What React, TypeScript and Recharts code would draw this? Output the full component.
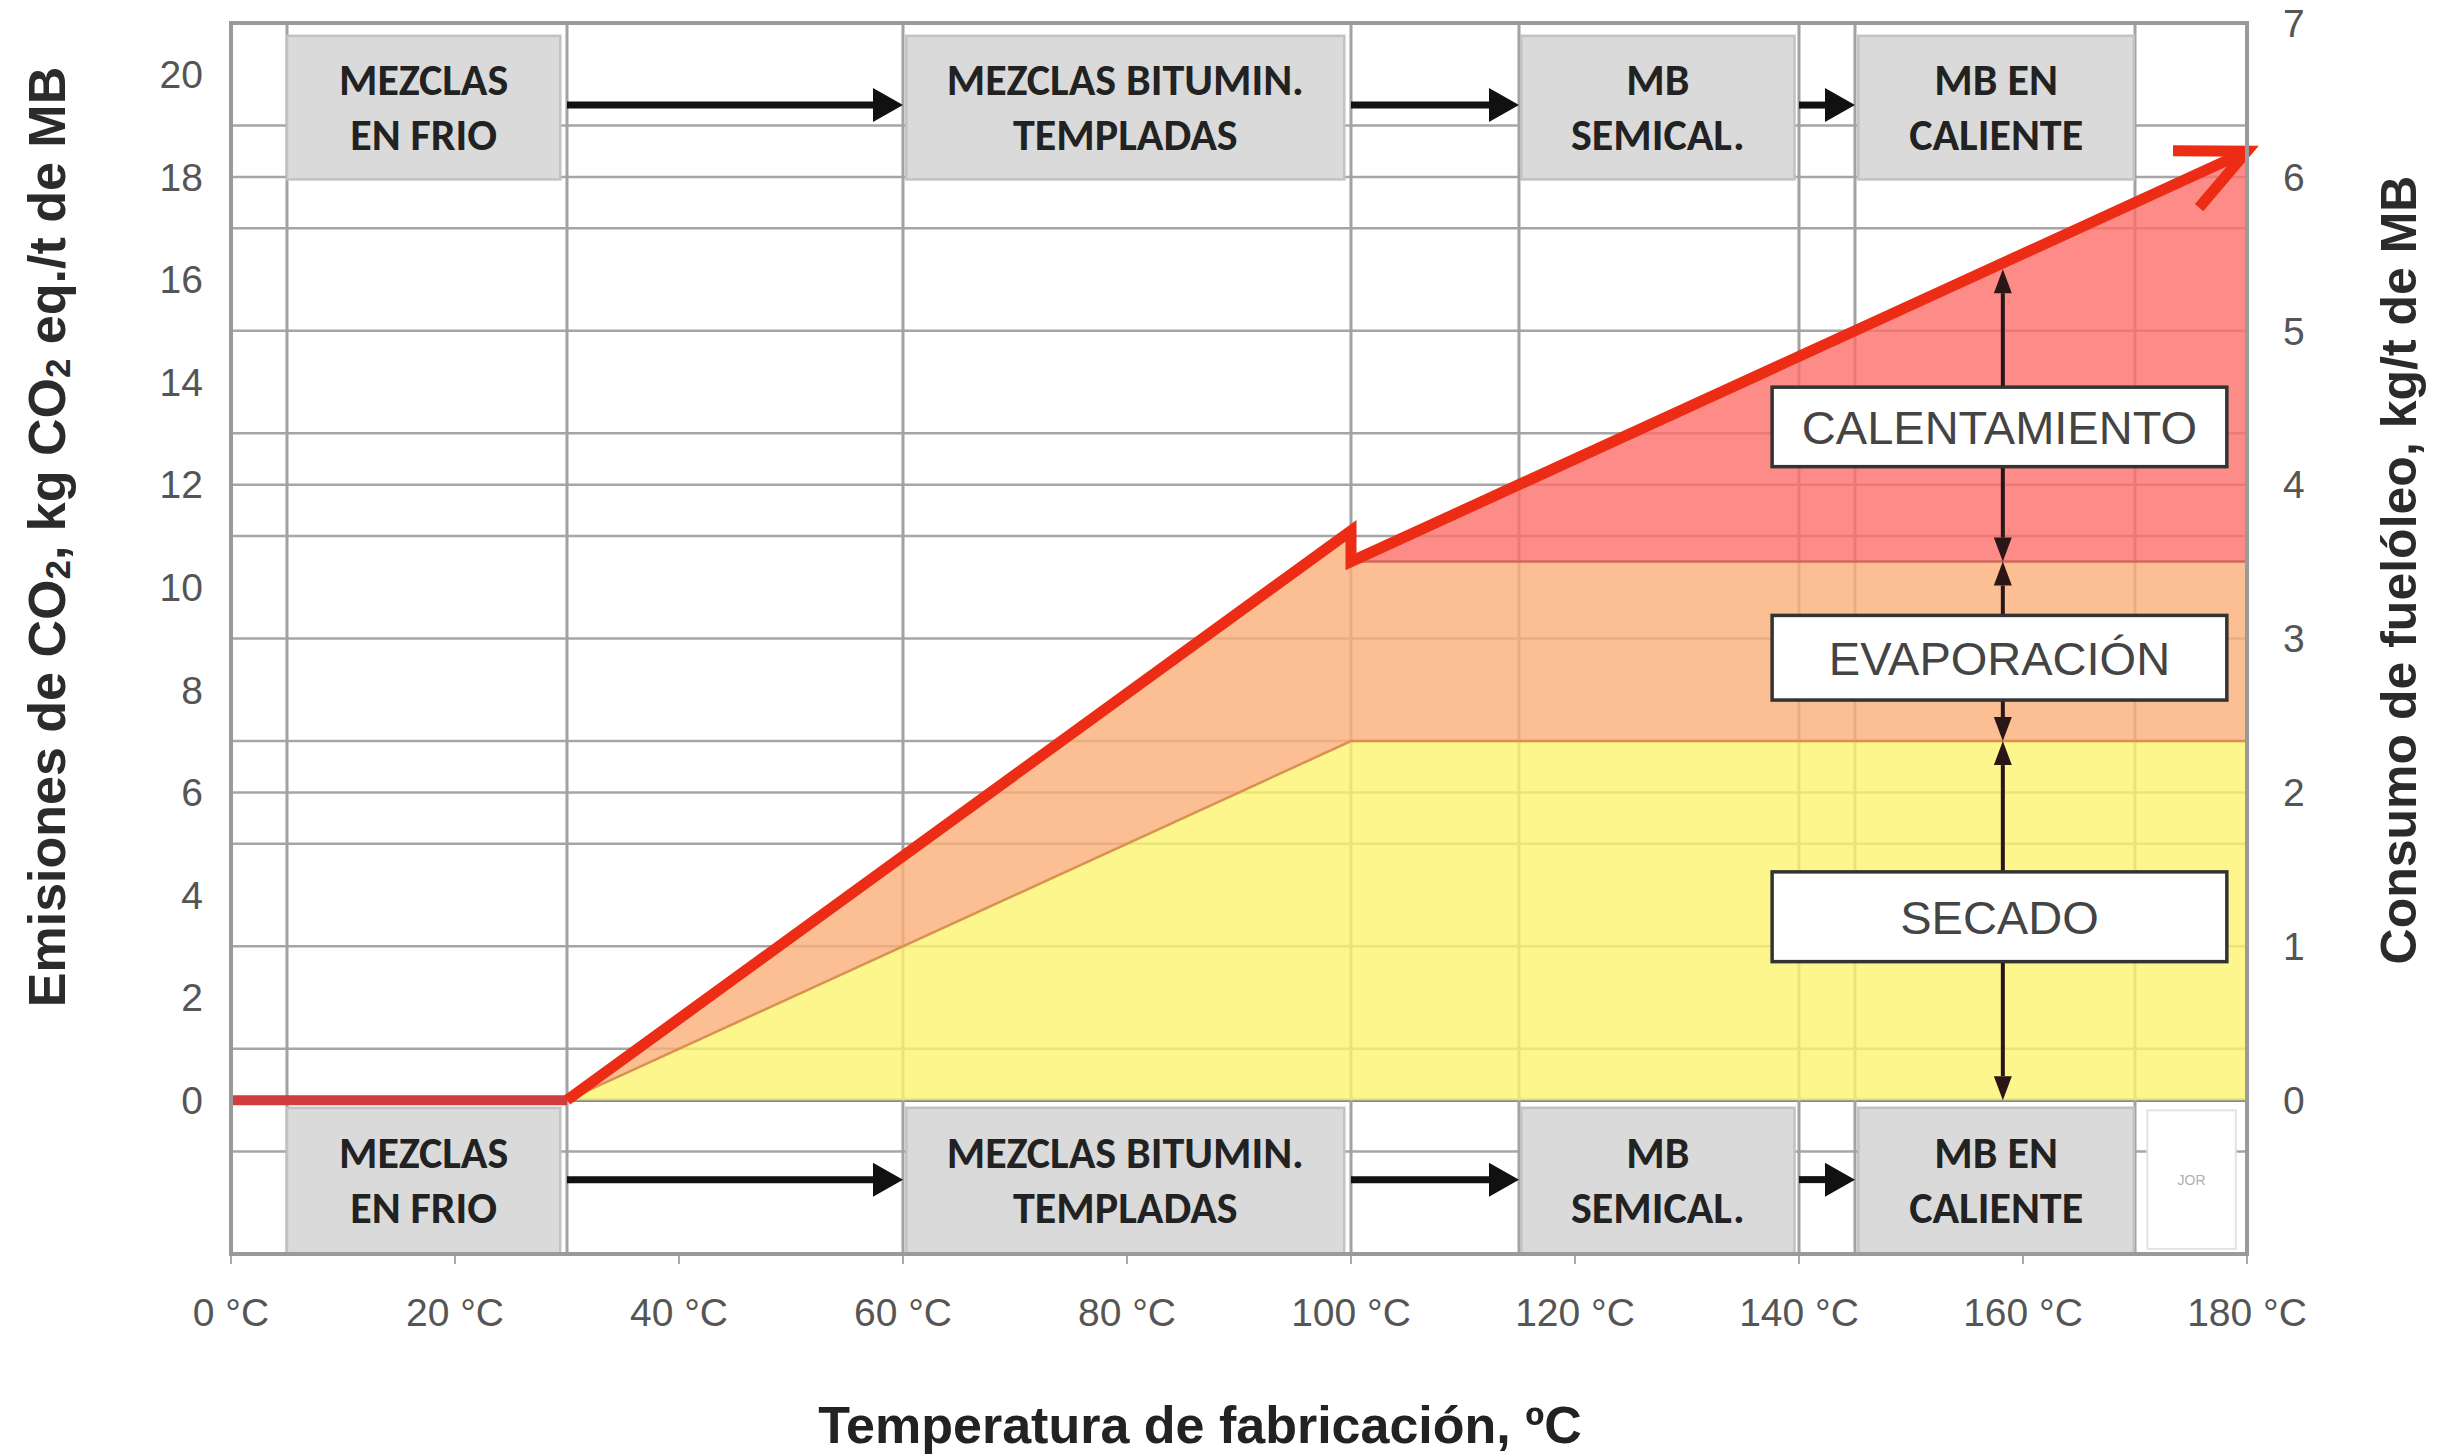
import React from 'react';
import {
  ComposedChart,
  XAxis,
  YAxis,
  Area,
  Line,
  ReferenceLine,
  ReferenceArea,
  Label,
} from 'recharts';

// ---------------- data ----------------
const temperatura = [0, 30, 100, 100, 180];
const secado = [null, 0, 7, 7, 7];
const evaporacion = [null, 0, 11.1, 10.5, 10.5];
const calentamiento = [null, null, null, 10.5, 18.5];
const emisionesFrio = [0, 0, null, null, null];
const emisionesCalor = [null, 0, 11.1, 10.5, 18.5];

const xTicks = [0, 20, 40, 60, 80, 100, 120, 140, 160, 180];
const xTickLabels = ['0 °C', '20 °C', '40 °C', '60 °C', '80 °C', '100 °C', '120 °C', '140 °C', '160 °C', '180 °C'];
const leftTicks = [0, 2, 4, 6, 8, 10, 12, 14, 16, 18, 20];
const rightTicks = [0, 1, 2, 3, 4, 5, 6, 7];
const gridY = [-1, 0, 1, 3, 5, 6, 7, 9, 11, 12, 13, 15, 17, 18, 19];
const gridX = [5, 30, 60, 100, 115, 140, 145, 170];

const etapasNombres = [
  ['MEZCLAS', 'EN FRIO'],
  ['MEZCLAS BITUMIN.', 'TEMPLADAS'],
  ['MB', 'SEMICAL.'],
  ['MB EN', 'CALIENTE'],
];
const etapasDesde = [5, 60.3, 115.2, 145.3];
const etapasHasta = [29.4, 99.4, 139.6, 169.9];
const flechasDesde = [30, 100, 140];
const flechasHasta = [60, 115, 145];

const fasesNombres = ['CALENTAMIENTO', 'EVAPORACIÓN', 'SECADO'];
const fasesAbajo = [12.35, 7.8, 2.7];
const fasesArriba = [13.9, 9.45, 4.45];
const fasesLimiteSup = [16.2, 10.5, 7];
const fasesLimiteInf = [10.5, 7, 0];

// ---------------- table built from the arrays ----------------
const band = (lo: number | null, hi: number | null) =>
  lo == null || hi == null ? [null, null] : [lo, hi];

const data = temperatura.map((t, i) => ({
  t,
  secado: band(secado[i] == null ? null : 0, secado[i]),
  evaporacion: band(secado[i], evaporacion[i]),
  calentamiento: band(evaporacion[i], calentamiento[i]),
  limiteSecado: secado[i],
  limiteEvap: evaporacion[i],
  frio: emisionesFrio[i],
  emisiones: emisionesCalor[i],
}));

// ---------------- layout / styles ----------------
const W = 2443;
const H = 1456;
const SANS = "'Liberation Sans', Arial, Helvetica, sans-serif";
const BOXFONT = "Carlito, 'Liberation Sans Narrow', 'DejaVu Sans Condensed', 'Liberation Sans', sans-serif";
const RED = '#ec2c14';

const BAND_TOP = [17.95, 20.75];
const BAND_BOTTOM = [-3, -0.15];
const ARROW_TOP_Y = 19.4;
const ARROW_BOTTOM_Y = -1.55;
const PHASE_X1 = 137.6;
const PHASE_X2 = 178.2;
const PHASE_ARROW_X = 158.2;

const bandBox = (lines: string[]) => (p: any) => {
  const cx = p.x + p.width / 2;
  const cy = p.y + p.height / 2;
  const fs = 44;
  return (
    <g>
      <rect x={p.x} y={p.y} width={p.width} height={p.height} fill="#dadada" stroke="#c2c2c2" strokeWidth={2.5} />
      <text x={cx} y={cy - 27 + fs * 0.33} textAnchor="middle" fontSize={fs} fontWeight="bold" fill="#222" fontFamily={BOXFONT}>
        {lines[0]}
      </text>
      <text x={cx} y={cy + 28 + fs * 0.33} textAnchor="middle" fontSize={fs} fontWeight="bold" fill="#222" fontFamily={BOXFONT}>
        {lines[1]}
      </text>
    </g>
  );
};

const jorBox = (p: any) => (
  <g>
    <rect x={p.x} y={p.y} width={p.width} height={p.height} fill="#ffffff" stroke="#e2e2e2" strokeWidth={2} />
    <text x={p.x + p.width / 2} y={p.y + p.height / 2 + 5} textAnchor="middle" fontSize={14} fill="#b0b0b0" fontFamily={SANS}>
      JOR
    </text>
  </g>
);

const bandArrow = (p: any) => {
  const { x1, y1, x2, y2 } = p;
  const head = 30;
  const half = 17;
  return (
    <g>
      <line x1={x1} y1={y1} x2={x2 - head + 2} y2={y2} stroke="#111" strokeWidth={7} />
      <polygon points={`${x2},${y2} ${x2 - head},${y2 - half} ${x2 - head},${y2 + half}`} fill="#111" />
    </g>
  );
};

const phaseArrow = (p: any) => {
  const { x1, y1, x2, y2 } = p;
  const a = Math.atan2(y2 - y1, x2 - x1);
  const L = 24;
  const Wd = 9;
  const bx = x2 - L * Math.cos(a);
  const by = y2 - L * Math.sin(a);
  const px = -Math.sin(a) * Wd;
  const py = Math.cos(a) * Wd;
  return (
    <g>
      <line x1={x1} y1={y1} x2={bx} y2={by} stroke="#2a1616" strokeWidth={4} />
      <polygon points={`${x2},${y2} ${bx + px},${by + py} ${bx - px},${by - py}`} fill="#2a1616" />
    </g>
  );
};

const phaseBox = (label: string) => (p: any) => {
  const fs = 47;
  return (
    <g>
      <rect x={p.x} y={p.y} width={p.width} height={p.height} fill="#ffffff" stroke="#333" strokeWidth={3.5} />
      <text x={p.x + p.width / 2} y={p.y + p.height / 2 + fs * 0.36} textAnchor="middle" fontSize={fs} fill="#444" fontFamily={SANS}>
        {label}
      </text>
    </g>
  );
};

const chevron = (p: any) => {
  const { x1, y1, x2, y2 } = p;
  const a = Math.atan2(y2 - y1, x2 - x1);
  const L = 74;
  const s = (25 * Math.PI) / 180;
  const a1 = a + Math.PI - s;
  const a2 = a + Math.PI + s;
  const d = `M ${x2 + L * Math.cos(a1)} ${y2 + L * Math.sin(a1)} L ${x2} ${y2} L ${x2 + L * Math.cos(a2)} ${y2 + L * Math.sin(a2)}`;
  return <path d={d} fill="none" stroke={RED} strokeWidth={11} strokeLinejoin="miter" strokeMiterlimit={10} />;
};

const XTitle = () => (
  <text x={1200} y={1425} textAnchor="middle" dominantBaseline="central" fontSize={52} fontWeight="bold" fill="#222" fontFamily={SANS}>
    Temperatura de fabricación, ºC
  </text>
);

const LeftTitle = () => {
  const x = 47;
  const y = 537;
  return (
    <text x={x} y={y} transform={`rotate(-90, ${x}, ${y})`} textAnchor="middle" dominantBaseline="central" fontSize={52} fontWeight="bold" fill="#2b2b2b" fontFamily={SANS}>
      Emisiones de CO
      <tspan fontSize={35} dy={10}>2</tspan>
      <tspan dy={-10}>, kg CO</tspan>
      <tspan fontSize={35} dy={10}>2</tspan>
      <tspan dy={-10}> eq./t de MB</tspan>
    </text>
  );
};

const RightTitle = () => {
  const x = 2399;
  const y = 570;
  return (
    <text x={x} y={y} transform={`rotate(-90, ${x}, ${y})`} textAnchor="middle" dominantBaseline="central" fontSize={50} fontWeight="bold" fill="#2b2b2b" fontFamily={SANS}>
      Consumo de fuelóleo, kg/t de MB
    </text>
  );
};

const tickStyle = { fontSize: 39, fill: '#555', fontFamily: SANS };

export default function App() {
  return (
    <div style={{ position: 'absolute', left: 0, top: 0, width: W, height: H, background: '#ffffff' }}>
      <ComposedChart width={W} height={H} data={data} margin={{ top: 23, right: 0, bottom: 0, left: 0 }}>
        <XAxis
          type="number"
          dataKey="t"
          domain={[0, 180]}
          ticks={xTicks}
          interval={0}
          allowDataOverflow
          height={202}
          axisLine={false}
          tickLine={{ stroke: '#aaa', strokeWidth: 2 }}
          tickSize={10}
          tickMargin={34}
          tick={tickStyle}
          tickFormatter={(v: number) => xTickLabels[xTicks.indexOf(v)] ?? `${v} °C`}
        >
          <Label content={XTitle} />
        </XAxis>
        <YAxis
          type="number"
          domain={[-3, 21]}
          ticks={leftTicks}
          interval={0}
          allowDataOverflow
          width={231}
          axisLine={false}
          tickLine={false}
          tickSize={0}
          tickMargin={28}
          tick={tickStyle}
        >
          <Label content={LeftTitle} />
        </YAxis>
        <YAxis
          yAxisId="right"
          orientation="right"
          type="number"
          domain={[-1, 7]}
          ticks={rightTicks}
          interval={0}
          allowDataOverflow
          width={196}
          axisLine={false}
          tickLine={false}
          tickSize={0}
          tickMargin={36}
          tick={tickStyle}
        >
          <Label content={RightTitle} />
        </YAxis>

        {gridY.map((v) => (
          <ReferenceLine key={`gy${v}`} y={v} stroke={v === 0 ? '#8a8a8a' : '#a6a6a6'} strokeWidth={v === 0 ? 3.5 : 2.5} zIndex={10} />
        ))}
        {gridX.map((v) => (
          <ReferenceLine key={`gx${v}`} x={v} stroke="#a2a2a2" strokeWidth={3} zIndex={10} />
        ))}

        <Area type="linear" dataKey="calentamiento" fill="#fd6f6c" fillOpacity={0.8} stroke="none" isAnimationActive={false} dot={false} activeDot={false} zIndex={100} />
        <Area type="linear" dataKey="evaporacion" fill="#fbae78" fillOpacity={0.8} stroke="none" isAnimationActive={false} dot={false} activeDot={false} zIndex={101} />
        <Area type="linear" dataKey="secado" fill="#fbf470" fillOpacity={0.8} stroke="none" isAnimationActive={false} dot={false} activeDot={false} zIndex={102} />
        <Line type="linear" dataKey="limiteSecado" stroke="#d9914f" strokeWidth={2.5} dot={false} activeDot={false} isAnimationActive={false} zIndex={150} />
        <Line type="linear" dataKey="limiteEvap" stroke="#cf6a5e" strokeWidth={2.5} dot={false} activeDot={false} isAnimationActive={false} zIndex={150} />

        {etapasNombres.map((lines, i) => (
          <ReferenceArea key={`bt${i}`} x1={etapasDesde[i]} x2={etapasHasta[i]} y1={BAND_TOP[0]} y2={BAND_TOP[1]} shape={bandBox(lines)} zIndex={300} />
        ))}
        {etapasNombres.map((lines, i) => (
          <ReferenceArea key={`bb${i}`} x1={etapasDesde[i]} x2={etapasHasta[i]} y1={BAND_BOTTOM[0]} y2={BAND_BOTTOM[1]} shape={bandBox(lines)} zIndex={300} />
        ))}
        <ReferenceArea x1={171.1} x2={179} y1={-2.9} y2={-0.2} shape={jorBox} zIndex={300} />

        {flechasDesde.map((x0, i) => (
          <ReferenceLine key={`ft${i}`} segment={[{ x: x0, y: ARROW_TOP_Y }, { x: flechasHasta[i], y: ARROW_TOP_Y }]} shape={bandArrow} zIndex={310} />
        ))}
        {flechasDesde.map((x0, i) => (
          <ReferenceLine key={`fb${i}`} segment={[{ x: x0, y: ARROW_BOTTOM_Y }, { x: flechasHasta[i], y: ARROW_BOTTOM_Y }]} shape={bandArrow} zIndex={310} />
        ))}

        <Line type="linear" dataKey="frio" stroke="#cf3d3f" strokeWidth={10} dot={false} activeDot={false} isAnimationActive={false} zIndex={400} />
        <Line type="linear" dataKey="emisiones" stroke={RED} strokeWidth={11} strokeLinejoin="miter" strokeMiterlimit={10} dot={false} activeDot={false} isAnimationActive={false} zIndex={401} />
        <ReferenceLine
          segment={[
            { x: temperatura[3], y: emisionesCalor[3] as number },
            { x: temperatura[4], y: emisionesCalor[4] as number },
          ]}
          shape={chevron}
          zIndex={410}
        />

        {fasesNombres.map((n, i) => (
          <ReferenceLine key={`pu${i}`} segment={[{ x: PHASE_ARROW_X, y: fasesArriba[i] }, { x: PHASE_ARROW_X, y: fasesLimiteSup[i] }]} shape={phaseArrow} zIndex={500} />
        ))}
        {fasesNombres.map((n, i) => (
          <ReferenceLine key={`pd${i}`} segment={[{ x: PHASE_ARROW_X, y: fasesAbajo[i] }, { x: PHASE_ARROW_X, y: fasesLimiteInf[i] }]} shape={phaseArrow} zIndex={500} />
        ))}
        {fasesNombres.map((n, i) => (
          <ReferenceArea key={`pb${i}`} x1={PHASE_X1} x2={PHASE_X2} y1={fasesAbajo[i]} y2={fasesArriba[i]} shape={phaseBox(n)} zIndex={510} />
        ))}

        <ReferenceArea x1={0} x2={180} y1={-3} y2={21} fill="none" fillOpacity={0} stroke="#9a9a9a" strokeWidth={4} zIndex={600} />
      </ComposedChart>
    </div>
  );
}
